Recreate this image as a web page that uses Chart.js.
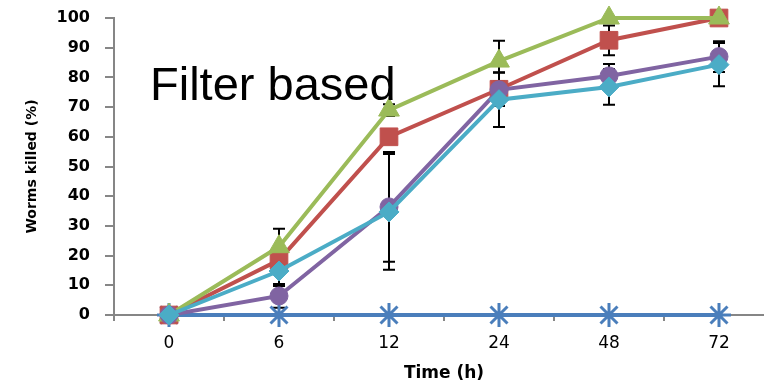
<!DOCTYPE html>
<html>
<head>
<meta charset="utf-8">
<script src="https://cdn.jsdelivr.net/npm/chart.js@4.4.1/dist/chart.umd.min.js"></script>
<style>
  html, body { margin: 0; padding: 0; background: #fff; overflow: hidden; width: 764px; height: 384px; }
  #wrap { position: relative; width: 764px; height: 384px; overflow: hidden; }
  canvas { display: block; }
</style>
</head>
<body>
<div id="wrap"><canvas id="c" width="790" height="384"></canvas></div>
<script>
const categories = ['0', '6', '12', '24', '48', '72'];
const yTicks = [0, 10, 20, 30, 40, 50, 60, 70, 80, 90, 100];

const seriesBlue   = [0, 0, 0, 0, 0, 0];
const seriesRed    = [0, 18.5, 60, 76, 92.5, 100];
const seriesGreen  = [0, 23, 69, 85.5, 100, 100];
const seriesPurple = [0, 6.4, 36.4, 75.8, 80.5, 87];
const seriesCyan   = [0, 14.8, 34.7, 72.5, 76.8, 84.3];

const errBlue   = [0, 0, 0, 0, 0, 0];
const errRed    = [0, 0, 0, 5.6, 5, 0];
const errGreen  = [0, 6, 2, 6.8, 0, 0];
const errPurple = [0, 4, 18.5, 0, 4, 5.2];
const errCyan   = [0, 5, 19.5, 9.2, 6, 7.3];

const annotationText = 'Filter based';

const errorBarPlugin = {
  id: 'errorBars',
  beforeDatasetsDraw(chart) {
    const ctx = chart.ctx;
    const xs = chart.scales.x, ys = chart.scales.y;
    ctx.save();
    ctx.strokeStyle = '#000';
    ctx.lineWidth = 2;
    chart.data.datasets.forEach(ds => {
      if (!ds.errors) return;
      ds.data.forEach((v, i) => {
        const e = ds.errors[i];
        if (!e) return;
        const x = xs.getPixelForValue(i);
        const yt = ys.getPixelForValue(v + e);
        const yb = ys.getPixelForValue(v - e);
        ctx.beginPath();
        ctx.moveTo(x, yt); ctx.lineTo(x, yb);
        ctx.moveTo(x - 6, yt); ctx.lineTo(x + 6, yt);
        ctx.moveTo(x - 6, yb); ctx.lineTo(x + 6, yb);
        ctx.stroke();
      });
    });
    ctx.restore();
  }
};

const textPlugin = {
  id: 'annot',
  afterDraw(chart) {
    const ctx = chart.ctx;
    ctx.save();
    ctx.font = '47px "Liberation Sans", Arial, sans-serif';
    ctx.fillStyle = '#000';
    ctx.textBaseline = 'alphabetic';
    ctx.textAlign = 'left';
    ctx.fillText(annotationText, 150, 100);
    ctx.restore();
  }
};

function ds(label, data, errors, color, style, radius, order) {
  return {
    label, data, errors,
    borderColor: color,
    backgroundColor: color,
    borderWidth: 4,
    pointStyle: style,
    pointRadius: radius,
    pointHoverRadius: radius,
    pointBackgroundColor: color,
    pointBorderColor: color,
    pointBorderWidth: style === 'star' ? 3 : 1,
    tension: 0,
    clip: false,
    order
  };
}

new Chart(document.getElementById('c'), {
  type: 'line',
  data: {
    labels: categories,
    datasets: [
      ds('Series 5', seriesCyan, errCyan, '#4BACC6', 'rectRot', 10, 0),
      ds('Series 4', seriesPurple, errPurple, '#8064A2', 'circle', 9, 1),
      ds('Series 3', seriesGreen, errGreen, '#9BBB59', 'triangle', 12, 2),
      ds('Series 2', seriesRed, errRed, '#C0504D', 'rect', 12.5, 3),
      ds('Series 1', seriesBlue, errBlue, '#4A7EBB', 'star', 12, 4)
    ]
  },
  options: {
    responsive: false,
    animation: false,
    events: [],
    layout: { padding: { top: 18, right: 16, left: 0, bottom: 0 } },
    plugins: { legend: { display: false }, tooltip: { enabled: false } },
    scales: {
      x: {
        type: 'category',
        offset: true,
        grid: { display: true, drawOnChartArea: false, drawTicks: true, tickLength: 6, offset: true, color: '#868686', lineWidth: 2 },
        border: { display: true, color: '#868686', width: 2 },
        ticks: { color: '#000', font: { family: '"DejaVu Sans", Verdana, sans-serif', size: 17 }, padding: 12, maxRotation: 0 },
        title: { display: true, text: 'Time (h)', color: '#000', font: { family: '"DejaVu Sans", Verdana, sans-serif', size: 17, weight: 'bold' }, padding: { top: 0, bottom: 0 } },
        afterFit(scale) { scale.height = 69; scale.paddingLeft = 0; scale.paddingRight = 0; }
      },
      y: {
        min: 0, max: 100,
        afterBuildTicks(scale) { scale.ticks = yTicks.map(v => ({ value: v })); },
        grid: { display: true, drawOnChartArea: false, drawTicks: true, tickLength: 9, color: '#868686', lineWidth: 2 },
        border: { display: true, color: '#868686', width: 2 },
        ticks: { color: '#000', font: { family: '"DejaVu Sans", Verdana, sans-serif', size: 16, weight: 'bold' }, padding: 15 },
        title: { display: true, text: 'Worms killed (%)', color: '#000', font: { family: '"DejaVu Sans", Verdana, sans-serif', size: 14, weight: 'bold' }, padding: { top: 24, bottom: 0 } },
        afterFit(scale) { scale.width = 114; scale.paddingTop = 0; scale.paddingBottom = 0; }
      }
    }
  },
  plugins: [errorBarPlugin, textPlugin]
});
</script>
</body>
</html>
